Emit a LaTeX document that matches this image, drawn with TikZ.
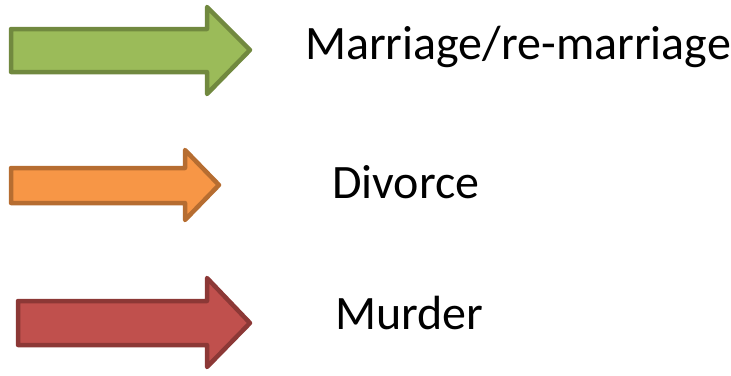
\documentclass[tikz,border=0pt]{standalone}
\usepackage{fontspec}
\setmainfont{Carlito}
\definecolor{gfill}{HTML}{9BBB59}\definecolor{gdraw}{HTML}{71893F}
\definecolor{ofill}{HTML}{F79646}\definecolor{odraw}{HTML}{B66D31}
\definecolor{rfill}{HTML}{C0504D}\definecolor{rdraw}{HTML}{8C3836}
\begin{document}
\begin{tikzpicture}[x=1pt,y=-1pt,
  blockarrow/.style={line width=4.5pt,line join=round},
  lab/.style={anchor=base west,inner sep=0pt,font=\fontsize{48}{56}\selectfont}]
\useasboundingbox (0,0) rectangle (731,375);
% green
\draw[blockarrow,fill=gfill,draw=gdraw] (11,29) -- (207,29) -- (207,7) -- (250,50) -- (207,94) -- (207,72) -- (11,72) -- cycle;
% orange
\draw[blockarrow,fill=ofill,draw=odraw] (11,168) -- (185,168) -- (185,150) -- (219,185) -- (185,220) -- (185,203) -- (11,203) -- cycle;
% red
\draw[blockarrow,fill=rfill,draw=rdraw] (18,301) -- (207,301) -- (207,278) -- (250,323) -- (207,367) -- (207,345) -- (18,345) -- cycle;
\node[lab] (t1) at (305,59) {Marriage/re-marriage};
\node[lab] (t2) at (332,198) {Divorce};
\node[lab] (t3) at (335,329) {Murder};
\end{tikzpicture}
\end{document}
